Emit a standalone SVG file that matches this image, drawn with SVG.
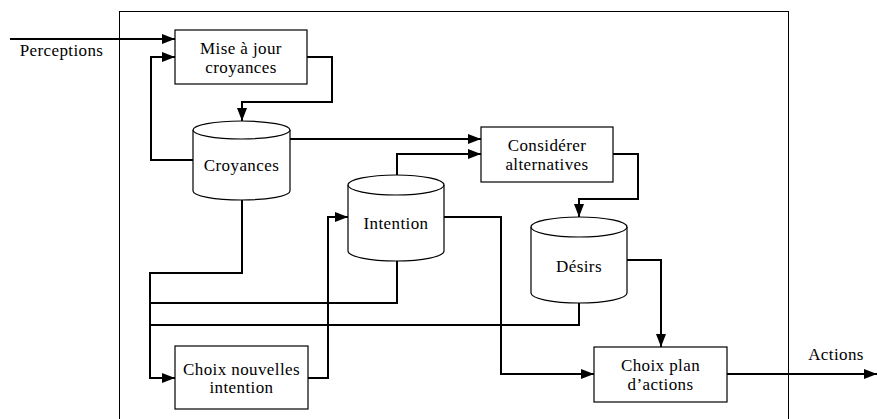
<svg xmlns="http://www.w3.org/2000/svg" width="877" height="419" viewBox="0 0 877 419">
  <style>
    .frame { fill: none; stroke: #000; stroke-width: 1; }
    .box { fill: #fff; stroke: #000; stroke-width: 1.2; }
    .cyl { fill: #fff; stroke: #000; stroke-width: 1.2; }
    .wire { fill: none; stroke: #000; stroke-width: 2; }
    text { font-family: "Liberation Serif", "DejaVu Serif", serif; font-size: 17px; letter-spacing: 0.4px; fill: #000; text-anchor: middle; }
  </style>
  <defs>
    <marker id="arrow" markerUnits="userSpaceOnUse" markerWidth="14" markerHeight="10" refX="13" refY="5" orient="auto">
      <path d="M0,0 L13,5 L0,10 Z" fill="#000"/>
    </marker>
  </defs>

  <rect width="877" height="419" fill="#fff"/>

  <!-- agent boundary -->
  <rect class="frame" x="119.5" y="11.5" width="669" height="420"/>

  <!-- connectors -->
  <g id="connectors" class="wire">
    <path d="M10,39 H175" marker-end="url(#arrow)"/>
    <path d="M193,160 H151 V57 H175" marker-end="url(#arrow)"/>
    <path d="M307,57 H332 V102 H242 V121" marker-end="url(#arrow)"/>
    <path d="M290,139 H481" marker-end="url(#arrow)"/>
    <path d="M397,175 V154 H481" marker-end="url(#arrow)"/>
    <path d="M613,154 H638 V199 H579 V217" marker-end="url(#arrow)"/>
    <path d="M627,260 H661 V347" marker-end="url(#arrow)"/>
    <path d="M444,217 H501 V374 H594" marker-end="url(#arrow)"/>
    <path d="M242,200 V273 H150 V378 H175" marker-end="url(#arrow)"/>
    <path d="M397,261 V303 H150"/>
    <path d="M579,303 V325 H150"/>
    <path d="M308,378 H328 V217 H348" marker-end="url(#arrow)"/>
    <path d="M727,374 H877" marker-end="url(#arrow)"/>
  </g>

  <!-- external labels -->
  <text x="61.5" y="56">Perceptions</text>
  <text x="836" y="360">Actions</text>

  <g id="maj-croyances">
    <rect class="box" x="175" y="30" width="132" height="54"/>
    <text x="241" y="54">Mise à jour</text>
    <text x="241" y="73">croyances</text>
  </g>

  <g id="croyances">
    <path class="cyl" d="M193,130 V191 A48.5,9 0 0 0 290,191 V130"/>
    <ellipse class="cyl" cx="241.5" cy="130" rx="48.5" ry="9"/>
    <text x="241.5" y="171">Croyances</text>
  </g>

  <g id="considerer">
    <rect class="box" x="481" y="127" width="132" height="55"/>
    <text x="547" y="151">Considérer</text>
    <text x="547" y="170">alternatives</text>
  </g>

  <g id="intention">
    <path class="cyl" d="M348,185 V251 A48,10 0 0 0 444,251 V185"/>
    <ellipse class="cyl" cx="396" cy="185" rx="48" ry="10"/>
    <text x="396" y="229">Intention</text>
  </g>

  <g id="desirs">
    <path class="cyl" d="M531,227 V293 A48,10 0 0 0 627,293 V227"/>
    <ellipse class="cyl" cx="579" cy="227" rx="48" ry="10"/>
    <text x="579" y="272">Désirs</text>
  </g>

  <g id="choix-intention">
    <rect class="box" x="175" y="346" width="133" height="63"/>
    <text x="241.5" y="375">Choix nouvelles</text>
    <text x="241.5" y="393">intention</text>
  </g>

  <g id="choix-plan">
    <rect class="box" x="594" y="347" width="133" height="55"/>
    <text x="660.5" y="371">Choix plan</text>
    <text x="660.5" y="390">d’actions</text>
  </g>
</svg>
